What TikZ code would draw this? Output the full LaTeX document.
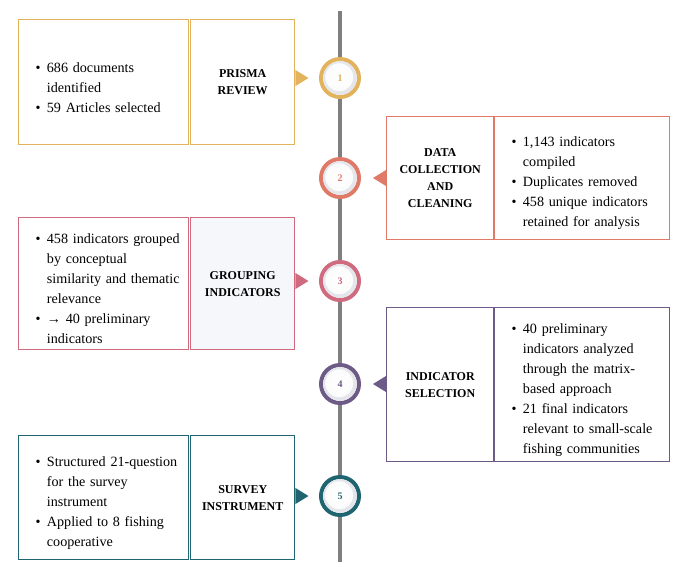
\documentclass[tikz,border=0pt]{standalone}
\usepackage{fontspec}
\setmainfont{Liberation Serif}
\usetikzlibrary{calc}
\definecolor{cgold}{HTML}{E2B25C}
\definecolor{ccoral}{HTML}{DF7A69}
\definecolor{cpink}{HTML}{D06A7E}
\definecolor{cpurple}{HTML}{6D5A86}
\definecolor{cteal}{HTML}{1E6571}
\definecolor{cline}{HTML}{7F7F7F}
\definecolor{cpale}{HTML}{F5F7FA}
\definecolor{cdisc}{HTML}{E4E6EC}
\hyphenpenalty=10000
\newcommand\bul[1]{\par\leftskip=0pt\rightskip=0pt plus 1fil\parfillskip=0pt plus 1fil\hangindent=8.5pt\hangafter=1\noindent\makebox[8.5pt][l]{\textbullet}#1\par}
\begin{document}
\begin{tikzpicture}[x=0.75pt,y=-0.75pt,
  boxstyle/.style={draw=#1, line width=1.1pt, inner sep=0pt, anchor=north west, fill=white},
  titlebox/.style={boxstyle=#1, align=center, font=\fontsize{9}{12.75}\selectfont\bfseries},
  listtext/.style={anchor=west, text width=122pt, inner sep=0pt, font=\fontsize{10.6}{15}\selectfont},
  ring/.style={circle, draw=#1, line width=3pt, fill=white, minimum size=28.5pt, inner sep=0pt},
  numtext/.style={font=\fontsize{7.5}{8}\selectfont\bfseries, text=#1, inner sep=0pt}
]
\useasboundingbox (0,0) rectangle (674,562);

% timeline
\coordinate (ltop) at (340,11);
\coordinate (lbot) at (340,562);
\draw[cline, line width=3pt] (ltop) -- (lbot);

% step 1
\node[boxstyle=cgold, minimum width=127.5pt, minimum height=93.75pt] (b1) at (18,19) {};
\node[titlebox=cgold, minimum width=78pt, minimum height=93.75pt] (t1) at (190,19) {PRISMA\\REVIEW};
\node[listtext] (l1) at ([xshift=13pt]b1.west) {\bul{686 documents\newline identified}\bul{59 Articles selected}};
\node[ring=cgold] (c1) at (340,78) {};

% step 2
\node[titlebox=ccoral, minimum width=80.25pt, minimum height=92.25pt] (t2) at (386,116) {DATA\\COLLECTION\\AND\\CLEANING};
\node[boxstyle=ccoral, minimum width=131.25pt, minimum height=92.25pt] (b2) at (494,116) {};
\node[listtext] (l2) at ([xshift=13pt]b2.west) {\bul{1,143 indicators\newline compiled}\bul{Duplicates removed}\bul{458 unique indicators\newline retained for analysis}};
\node[ring=ccoral] (c2) at (340,178) {};

% step 3
\node[boxstyle=cpink, minimum width=127.5pt, minimum height=99pt] (b3) at (18,217) {};
\node[titlebox=cpink, fill=cpale, minimum width=78pt, minimum height=99pt] (t3) at (190,217) {GROUPING\\INDICATORS};
\node[listtext] (l3) at ([xshift=13pt]b3.west) {\bul{458 indicators grouped\newline by conceptual\newline similarity and thematic\newline relevance}\bul{→ 40 preliminary\newline indicators}};
\node[ring=cpink] (c3) at (340,281) {};

% step 4
\node[titlebox=cpurple, minimum width=80.25pt, minimum height=115.5pt] (t4) at (386,307) {INDICATOR\\SELECTION};
\node[boxstyle=cpurple, minimum width=131.25pt, minimum height=115.5pt] (b4) at (494,307) {};
\node[listtext] (l4) at ([xshift=13pt]b4.west) {\bul{40 preliminary\newline indicators analyzed\newline through the matrix-\newline based approach}\bul{21 final indicators\newline relevant to small-scale\newline fishing communities}};
\node[ring=cpurple] (c4) at (340,384) {};

% step 5
\node[boxstyle=cteal, minimum width=127.5pt, minimum height=93pt] (b5) at (18,435) {};
\node[titlebox=cteal, minimum width=78pt, minimum height=93pt] (t5) at (190,435) {SURVEY\\INSTRUMENT};
\node[listtext] (l5) at ([xshift=13pt]b5.west) {\bul{Structured 21-question\newline for the survey\newline instrument}\bul{Applied to 8 fishing\newline cooperative}};
\node[ring=cteal] (c5) at (340,496) {};

% pointers
\fill[cgold]   (t1.east |- c1) ++(0,-8) -- ++(13,8) -- ++(-13,8) -- cycle;
\fill[ccoral]  (t2.west |- c2) ++(0,-8) -- ++(-13,8) -- ++(13,8) -- cycle;
\fill[cpink]   (t3.east |- c3) ++(0,-8) -- ++(13,8) -- ++(-13,8) -- cycle;
\fill[cpurple] (t4.west |- c4) ++(0,-8) -- ++(-13,8) -- ++(13,8) -- cycle;
\fill[cteal]   (t5.east |- c5) ++(0,-8) -- ++(13,8) -- ++(-13,8) -- cycle;

% discs and numbers
\foreach \c/\col/\n in {c1/cgold/1, c2/ccoral/2, c3/cpink/3, c4/cpurple/4, c5/cteal/5}{
  \fill[cdisc] (\c) circle[radius=12.6pt];
  \shade[inner color=white, outer color=white!85!cdisc] ([xshift=-0.6pt,yshift=0.6pt]\c) circle[radius=10.5pt];
  \node[numtext=\col] at (\c) {\n};
}
\end{tikzpicture}
\end{document}
